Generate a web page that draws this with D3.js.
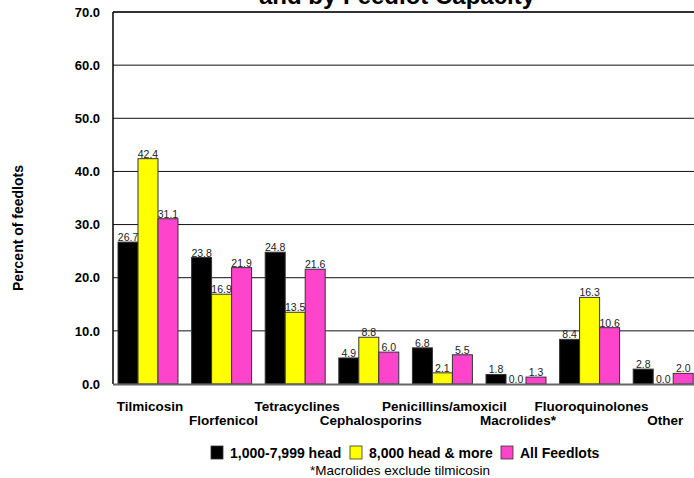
<!DOCTYPE html>
<html>
<head>
<meta charset="utf-8">
<script src="https://cdn.jsdelivr.net/npm/d3@7/dist/d3.min.js"></script>
<style>
  html, body { margin: 0; padding: 0; background: #fff; }
  svg { display: block; font-family: Arial, "Liberation Sans", sans-serif; }
</style>
</head>
<body>
<svg id="chart" width="694" height="478"></svg>
<script>
// Antimicrobials used, by feedlot capacity (percent of feedlots)
const categories = ["Tilmicosin", "Florfenicol", "Tetracyclines", "Cephalosporins",
                    "Penicillins/amoxicil", "Macrolides*", "Fluoroquinolones", "Other"];
const seriesNames = ["1,000-7,999 head", "8,000 head & more", "All Feedlots"];
const smallLots = [26.7, 23.8, 24.8, 4.9, 6.8, 1.8, 8.4, 2.8];
const largeLots = [42.4, 16.9, 13.5, 8.8, 2.1, 0.0, 16.3, 0.0];
const allLots   = [31.1, 21.9, 21.6, 6.0, 5.5, 1.3, 10.6, 2.0];
const yTicks = [0, 10, 20, 30, 40, 50, 60, 70];
const colors = ["#000000", "#ffff00", "#ff44cc"];

const seriesValues = [smallLots, largeLots, allLots];
const rows = categories.map((c, i) => ({
  category: c,
  values: seriesNames.map((s, k) => ({ key: s, value: seriesValues[k][i], color: colors[k] }))
}));

const svg = d3.select("#chart");
const plotLeft = 113, plotTop = 12, plotBottom = 384, plotRight = 694;

const y = d3.scaleLinear().domain([0, 70]).range([plotBottom, plotTop]);
const x = d3.scaleBand().domain(categories).range([plotLeft, 698.2])
  .paddingInner(0.185).paddingOuter(0.068);
const xInner = d3.scaleBand().domain(seriesNames).range([0, x.bandwidth()]).padding(0);

// title (last line of the heading, running off the top edge)
svg.append("text")
  .attr("x", 397).attr("y", 4)
  .attr("text-anchor", "middle")
  .attr("font-size", 24).attr("font-weight", "bold")
  .text("and by Feedlot Capacity");

// gridlines
svg.append("g").selectAll("line")
  .data(yTicks.filter(t => t > 0 && t < 70))
  .join("line")
  .attr("x1", plotLeft).attr("x2", plotRight)
  .attr("y1", d => y(d)).attr("y2", d => y(d))
  .attr("stroke", "#111").attr("stroke-width", 1);

// top border of plot
svg.append("line")
  .attr("x1", plotLeft).attr("x2", plotRight)
  .attr("y1", y(70)).attr("y2", y(70))
  .attr("stroke", "#333").attr("stroke-width", 2);

// y axis labels
const yAxis = d3.axisLeft(y).tickValues(yTicks).tickFormat(d3.format(".1f"))
  .tickSize(0).tickPadding(13);
const yg = svg.append("g").attr("transform", `translate(${plotLeft},0)`).call(yAxis);
yg.select(".domain").remove();
yg.selectAll("text")
  .attr("font-size", 13).attr("font-weight", "bold")
  .attr("font-family", "Arial, 'Liberation Sans', sans-serif")
  .attr("fill", "#000");

// bars
const groups = svg.append("g").selectAll("g")
  .data(rows)
  .join("g")
  .attr("transform", d => `translate(${x(d.category)},0)`);

groups.selectAll("rect")
  .data(d => d.values)
  .join("rect")
  .attr("x", d => xInner(d.key))
  .attr("y", d => y(d.value))
  .attr("width", xInner.bandwidth())
  .attr("height", d => y(0) - y(d.value))
  .attr("fill", d => d.color)
  .attr("stroke", "#333")
  .attr("stroke-width", 1);

groups.selectAll("text")
  .data(d => d.values)
  .join("text")
  .attr("x", d => xInner(d.key) + xInner.bandwidth() / 2)
  .attr("y", d => y(d.value) - 1)
  .attr("text-anchor", "middle")
  .attr("font-size", 10.5)
  .attr("fill", "#222")
  .text(d => d3.format(".1f")(d.value));

// left axis and baseline
svg.append("line")
  .attr("x1", plotLeft).attr("x2", plotLeft)
  .attr("y1", y(70)).attr("y2", y(0))
  .attr("stroke", "#000").attr("stroke-width", 1.5);
svg.append("line")
  .attr("x1", plotLeft).attr("x2", plotRight)
  .attr("y1", y(0) + 0.5).attr("y2", y(0) + 0.5)
  .attr("stroke", "#666").attr("stroke-width", 2);

// category labels, staggered over two rows
svg.append("g").selectAll("text")
  .data(categories)
  .join("text")
  .attr("x", d => x(d) + x.bandwidth() / 2 + 2)
  .attr("y", (d, i) => i % 2 === 0 ? 411 : 425)
  .attr("text-anchor", "middle")
  .attr("font-size", 13.5).attr("font-weight", "bold")
  .text(d => d);

// y axis title
svg.append("text")
  .attr("transform", "translate(23,228) rotate(-90)")
  .attr("text-anchor", "middle")
  .attr("font-size", 14).attr("font-weight", "bold")
  .text("Percent of feedlots");

// legend
const legendX = [211, 350, 501];
const legend = svg.append("g").selectAll("g")
  .data(seriesNames)
  .join("g")
  .attr("transform", (d, i) => `translate(${legendX[i]},446)`);
legend.append("rect")
  .attr("width", 12).attr("height", 13)
  .attr("fill", (d, i) => colors[i])
  .attr("stroke", "#333").attr("stroke-width", 0.8);
legend.append("text")
  .attr("x", 19).attr("y", 12)
  .attr("font-size", 14).attr("font-weight", "bold")
  .text(d => d);

// footnote
svg.append("text")
  .attr("x", 400).attr("y", 475)
  .attr("text-anchor", "middle")
  .attr("font-size", 13.5)
  .text("*Macrolides exclude tilmicosin");
</script>
</body>
</html>
